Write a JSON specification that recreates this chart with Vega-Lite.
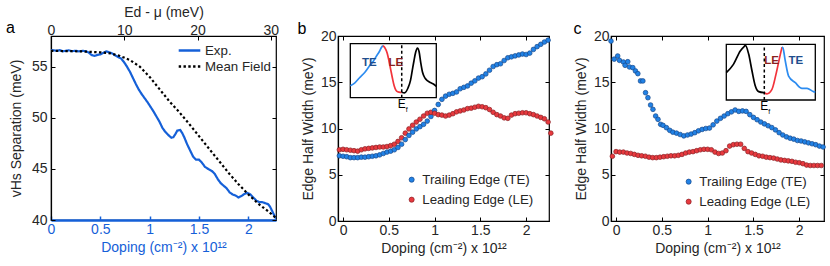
{
  "$schema": "https://vega.github.io/schema/vega-lite/v6.json",
  "padding": {"left": 5, "top": 4, "right": 5, "bottom": 5},
  "config": {
    "font": "Liberation Sans",
    "view": {"stroke": "#000", "strokeWidth": 1.2},
    "axis": {"grid": false, "labelFontSize": 14, "titleFontSize": 14, "titleFontWeight": "normal", "labelColor": "#262626", "titleColor": "#262626", "domainColor": "#000", "domainWidth": 1.2, "tickColor": "#000", "tickSize": -4, "labelFlush": false, "labelOverlap": false, "format": "~g"},
    "axisX": {"labelPadding": 6, "titlePadding": 4},
    "axisY": {"labelPadding": 6, "titlePadding": 5},
    "legend": {"labelFontSize": 13.3, "labelColor": "#262626", "padding": 0, "titleFontSize": 0}
  },
  "datasets": {
    "vhs": [
      {"series": "Exp.", "doping": 0.00, "sep": 56.62}, {"series": "Exp.", "doping": 0.03, "sep": 56.6}, {"series": "Exp.", "doping": 0.06, "sep": 56.55}, {"series": "Exp.", "doping": 0.09, "sep": 56.62}, {"series": "Exp.", "doping": 0.12, "sep": 56.5}, {"series": "Exp.", "doping": 0.15, "sep": 56.55}, {"series": "Exp.", "doping": 0.18, "sep": 56.6}, {"series": "Exp.", "doping": 0.21, "sep": 56.52}, {"series": "Exp.", "doping": 0.25, "sep": 56.55}, {"series": "Exp.", "doping": 0.28, "sep": 56.5}, {"series": "Exp.", "doping": 0.32, "sep": 56.55}, {"series": "Exp.", "doping": 0.35, "sep": 56.52}, {"series": "Exp.", "doping": 0.38, "sep": 56.4}, {"series": "Exp.", "doping": 0.41, "sep": 56.15}, {"series": "Exp.", "doping": 0.44, "sep": 56.05}, {"series": "Exp.", "doping": 0.47, "sep": 56.15}, {"series": "Exp.", "doping": 0.50, "sep": 56.2}, {"series": "Exp.", "doping": 0.53, "sep": 56.35}, {"series": "Exp.", "doping": 0.56, "sep": 56.5}, {"series": "Exp.", "doping": 0.59, "sep": 56.4}, {"series": "Exp.", "doping": 0.62, "sep": 56.3}, {"series": "Exp.", "doping": 0.65, "sep": 56.1}, {"series": "Exp.", "doping": 0.68, "sep": 55.95}, {"series": "Exp.", "doping": 0.71, "sep": 55.8}, {"series": "Exp.", "doping": 0.74, "sep": 55.45}, {"series": "Exp.", "doping": 0.77, "sep": 55.0}, {"series": "Exp.", "doping": 0.80, "sep": 54.5}, {"series": "Exp.", "doping": 0.83, "sep": 53.9}, {"series": "Exp.", "doping": 0.86, "sep": 53.3}, {"series": "Exp.", "doping": 0.89, "sep": 52.75}, {"series": "Exp.", "doping": 0.92, "sep": 52.3}, {"series": "Exp.", "doping": 0.95, "sep": 51.9}, {"series": "Exp.", "doping": 0.98, "sep": 51.5}, {"series": "Exp.", "doping": 1.01, "sep": 51.05}, {"series": "Exp.", "doping": 1.04, "sep": 50.6}, {"series": "Exp.", "doping": 1.07, "sep": 50.1}, {"series": "Exp.", "doping": 1.10, "sep": 49.6}, {"series": "Exp.", "doping": 1.13, "sep": 49.0}, {"series": "Exp.", "doping": 1.16, "sep": 48.6}, {"series": "Exp.", "doping": 1.19, "sep": 48.3}, {"series": "Exp.", "doping": 1.22, "sep": 48.05}, {"series": "Exp.", "doping": 1.24, "sep": 48.1}, {"series": "Exp.", "doping": 1.26, "sep": 48.4}, {"series": "Exp.", "doping": 1.28, "sep": 48.75}, {"series": "Exp.", "doping": 1.31, "sep": 48.8}, {"series": "Exp.", "doping": 1.33, "sep": 48.5}, {"series": "Exp.", "doping": 1.35, "sep": 48.1}, {"series": "Exp.", "doping": 1.38, "sep": 47.4}, {"series": "Exp.", "doping": 1.41, "sep": 46.8}, {"series": "Exp.", "doping": 1.44, "sep": 46.2}, {"series": "Exp.", "doping": 1.47, "sep": 45.9}, {"series": "Exp.", "doping": 1.50, "sep": 45.9}, {"series": "Exp.", "doping": 1.53, "sep": 45.6}, {"series": "Exp.", "doping": 1.56, "sep": 45.2}, {"series": "Exp.", "doping": 1.60, "sep": 44.95}, {"series": "Exp.", "doping": 1.63, "sep": 44.8}, {"series": "Exp.", "doping": 1.66, "sep": 44.5}, {"series": "Exp.", "doping": 1.69, "sep": 44.0}, {"series": "Exp.", "doping": 1.72, "sep": 43.6}, {"series": "Exp.", "doping": 1.75, "sep": 43.35}, {"series": "Exp.", "doping": 1.78, "sep": 43.1}, {"series": "Exp.", "doping": 1.81, "sep": 42.7}, {"series": "Exp.", "doping": 1.84, "sep": 42.5}, {"series": "Exp.", "doping": 1.87, "sep": 42.4}, {"series": "Exp.", "doping": 1.90, "sep": 42.2}, {"series": "Exp.", "doping": 1.93, "sep": 42.35}, {"series": "Exp.", "doping": 1.96, "sep": 42.55}, {"series": "Exp.", "doping": 1.99, "sep": 42.65}, {"series": "Exp.", "doping": 2.02, "sep": 42.5}, {"series": "Exp.", "doping": 2.05, "sep": 42.2}, {"series": "Exp.", "doping": 2.08, "sep": 41.9}, {"series": "Exp.", "doping": 2.11, "sep": 41.75}, {"series": "Exp.", "doping": 2.14, "sep": 41.75}, {"series": "Exp.", "doping": 2.17, "sep": 41.65}, {"series": "Exp.", "doping": 2.20, "sep": 41.55}, {"series": "Exp.", "doping": 2.22, "sep": 41.3}, {"series": "Exp.", "doping": 2.24, "sep": 40.9}, {"series": "Exp.", "doping": 2.26, "sep": 40.5}, {"series": "Exp.", "doping": 2.28, "sep": 40.15},
      {"series": "Mean Field", "doping": 0.0, "sep": 56.55}, {"series": "Mean Field", "doping": 0.3, "sep": 56.5}, {"series": "Mean Field", "doping": 0.5, "sep": 56.4}, {"series": "Mean Field", "doping": 0.6, "sep": 56.3}, {"series": "Mean Field", "doping": 0.7, "sep": 56.05}, {"series": "Mean Field", "doping": 0.8, "sep": 55.65}, {"series": "Mean Field", "doping": 0.9, "sep": 55.0}, {"series": "Mean Field", "doping": 1.0, "sep": 54.0}, {"series": "Mean Field", "doping": 1.1, "sep": 52.8}, {"series": "Mean Field", "doping": 1.2, "sep": 51.6}, {"series": "Mean Field", "doping": 1.3, "sep": 50.55}, {"series": "Mean Field", "doping": 1.4, "sep": 49.4}, {"series": "Mean Field", "doping": 1.5, "sep": 48.2}, {"series": "Mean Field", "doping": 1.6, "sep": 47.0}, {"series": "Mean Field", "doping": 1.7, "sep": 45.8}, {"series": "Mean Field", "doping": 1.8, "sep": 44.6}, {"series": "Mean Field", "doping": 1.9, "sep": 43.5}, {"series": "Mean Field", "doping": 2.0, "sep": 42.5}, {"series": "Mean Field", "doping": 2.1, "sep": 41.6}, {"series": "Mean Field", "doping": 2.2, "sep": 40.85}, {"series": "Mean Field", "doping": 2.28, "sep": 40.2}
    ],
    "b": [
      {"d": -0.04, "TE": 7.05, "LE": 7.7}, {"d": 0.00, "TE": 7.0, "LE": 7.75}, {"d": 0.04, "TE": 6.95, "LE": 7.7}, {"d": 0.08, "TE": 6.85, "LE": 7.65}, {"d": 0.12, "TE": 6.85, "LE": 7.6}, {"d": 0.16, "TE": 6.85, "LE": 7.55}, {"d": 0.20, "TE": 6.9, "LE": 7.7}, {"d": 0.24, "TE": 6.9, "LE": 7.8}, {"d": 0.28, "TE": 6.95, "LE": 7.85}, {"d": 0.32, "TE": 7.0, "LE": 7.9},
      {"d": 0.36, "TE": 7.05, "LE": 7.95}, {"d": 0.40, "TE": 7.15, "LE": 8.0}, {"d": 0.44, "TE": 7.3, "LE": 8.0}, {"d": 0.48, "TE": 7.45, "LE": 8.05}, {"d": 0.52, "TE": 7.55, "LE": 8.15}, {"d": 0.56, "TE": 7.7, "LE": 8.3}, {"d": 0.60, "TE": 7.95, "LE": 8.6}, {"d": 0.64, "TE": 8.3, "LE": 9.0}, {"d": 0.68, "TE": 8.8, "LE": 9.5}, {"d": 0.72, "TE": 9.25, "LE": 9.95},
      {"d": 0.76, "TE": 9.6, "LE": 10.35}, {"d": 0.80, "TE": 9.95, "LE": 10.7}, {"d": 0.84, "TE": 10.2, "LE": 11.0}, {"d": 0.88, "TE": 10.45, "LE": 11.35}, {"d": 0.92, "TE": 10.8, "LE": 11.65}, {"d": 0.96, "TE": 11.3, "LE": 11.75}, {"d": 1.00, "TE": 11.95, "LE": 11.65}, {"d": 1.04, "TE": 12.6, "LE": 11.5}, {"d": 1.08, "TE": 13.15, "LE": 11.45}, {"d": 1.12, "TE": 13.5, "LE": 11.35},
      {"d": 1.16, "TE": 13.7, "LE": 11.45}, {"d": 1.20, "TE": 13.8, "LE": 11.6}, {"d": 1.24, "TE": 13.95, "LE": 11.8}, {"d": 1.28, "TE": 14.3, "LE": 11.9}, {"d": 1.32, "TE": 14.45, "LE": 12.0}, {"d": 1.36, "TE": 14.6, "LE": 12.15}, {"d": 1.40, "TE": 14.9, "LE": 12.2}, {"d": 1.44, "TE": 15.15, "LE": 12.3}, {"d": 1.48, "TE": 15.45, "LE": 12.4}, {"d": 1.52, "TE": 15.6, "LE": 12.35},
      {"d": 1.56, "TE": 15.9, "LE": 12.25}, {"d": 1.60, "TE": 16.3, "LE": 12.05}, {"d": 1.64, "TE": 16.7, "LE": 11.75}, {"d": 1.68, "TE": 16.9, "LE": 11.5}, {"d": 1.72, "TE": 17.0, "LE": 11.35}, {"d": 1.76, "TE": 17.35, "LE": 11.15}, {"d": 1.80, "TE": 17.65, "LE": 11.1}, {"d": 1.84, "TE": 17.75, "LE": 11.45}, {"d": 1.88, "TE": 17.85, "LE": 11.6}, {"d": 1.92, "TE": 17.95, "LE": 11.65},
      {"d": 1.96, "TE": 18.05, "LE": 11.7}, {"d": 2.00, "TE": 18.0, "LE": 11.7}, {"d": 2.04, "TE": 18.15, "LE": 11.6}, {"d": 2.08, "TE": 18.55, "LE": 11.5}, {"d": 2.12, "TE": 18.85, "LE": 11.35}, {"d": 2.16, "TE": 19.1, "LE": 11.2}, {"d": 2.20, "TE": 19.35, "LE": 11.05}, {"d": 2.24, "TE": 19.55, "LE": 10.7}, {"d": 2.27, "LE": 9.5}
    ],
    "c": [
      {"s": "TE", "d": -0.055, "w": 19.45}, {"s": "TE", "d": -0.02, "w": 17.5}, {"s": "TE", "d": 0.018, "w": 17.84}, {"s": "TE", "d": 0.037, "w": 17.37}, {"s": "TE", "d": 0.08, "w": 17.19}, {"s": "TE", "d": 0.099, "w": 16.83}, {"s": "TE", "d": 0.128, "w": 17.22}, {"s": "TE", "d": 0.147, "w": 16.65}, {"s": "TE", "d": 0.183, "w": 16.58}, {"s": "TE", "d": 0.212, "w": 16.22}, {"s": "TE", "d": 0.238, "w": 15.93}, {"s": "TE", "d": 0.267, "w": 15.14}, {"s": "TE", "d": 0.293, "w": 15.14}, {"s": "TE", "d": 0.322, "w": 13.87}, {"s": "TE", "d": 0.348, "w": 13.33}, {"s": "TE", "d": 0.377, "w": 12.54}, {"s": "TE", "d": 0.403, "w": 12.07}, {"s": "TE", "d": 0.432, "w": 11.35}, {"s": "TE", "d": 0.458, "w": 10.99}, {"s": "TE", "d": 0.487, "w": 10.45}, {"s": "TE", "d": 0.513, "w": 10.34}, {"s": "TE", "d": 0.55, "w": 10.09}, {"s": "TE", "d": 0.586, "w": 9.8},
      {"s": "TE", "d": 0.62, "w": 9.6}, {"s": "TE", "d": 0.66, "w": 9.5}, {"s": "TE", "d": 0.70, "w": 9.35}, {"s": "TE", "d": 0.74, "w": 9.2}, {"s": "TE", "d": 0.78, "w": 9.3}, {"s": "TE", "d": 0.82, "w": 9.4}, {"s": "TE", "d": 0.86, "w": 9.55}, {"s": "TE", "d": 0.90, "w": 9.75}, {"s": "TE", "d": 0.94, "w": 9.9}, {"s": "TE", "d": 0.98, "w": 10.0}, {"s": "TE", "d": 1.02, "w": 10.05}, {"s": "TE", "d": 1.06, "w": 10.4}, {"s": "TE", "d": 1.10, "w": 10.8}, {"s": "TE", "d": 1.14, "w": 11.1}, {"s": "TE", "d": 1.18, "w": 11.35}, {"s": "TE", "d": 1.22, "w": 11.6}, {"s": "TE", "d": 1.26, "w": 11.8}, {"s": "TE", "d": 1.30, "w": 12.0}, {"s": "TE", "d": 1.34, "w": 11.85}, {"s": "TE", "d": 1.38, "w": 11.9}, {"s": "TE", "d": 1.42, "w": 11.85}, {"s": "TE", "d": 1.46, "w": 11.5}, {"s": "TE", "d": 1.50, "w": 11.2}, {"s": "TE", "d": 1.54, "w": 10.95}, {"s": "TE", "d": 1.58, "w": 10.7}, {"s": "TE", "d": 1.62, "w": 10.5}, {"s": "TE", "d": 1.66, "w": 10.3}, {"s": "TE", "d": 1.70, "w": 10.1}, {"s": "TE", "d": 1.74, "w": 9.85}, {"s": "TE", "d": 1.78, "w": 9.55}, {"s": "TE", "d": 1.82, "w": 9.3}, {"s": "TE", "d": 1.86, "w": 9.1}, {"s": "TE", "d": 1.90, "w": 8.95}, {"s": "TE", "d": 1.94, "w": 8.85}, {"s": "TE", "d": 1.98, "w": 8.7}, {"s": "TE", "d": 2.02, "w": 8.65}, {"s": "TE", "d": 2.06, "w": 8.55}, {"s": "TE", "d": 2.10, "w": 8.45}, {"s": "TE", "d": 2.14, "w": 8.35}, {"s": "TE", "d": 2.18, "w": 8.25}, {"s": "TE", "d": 2.22, "w": 8.1}, {"s": "TE", "d": 2.26, "w": 8.0},
      {"s": "LE", "d": -0.04, "w": 7.0}, {"s": "LE", "d": 0.00, "w": 7.5}, {"s": "LE", "d": 0.04, "w": 7.45}, {"s": "LE", "d": 0.08, "w": 7.45}, {"s": "LE", "d": 0.12, "w": 7.35}, {"s": "LE", "d": 0.16, "w": 7.3}, {"s": "LE", "d": 0.20, "w": 7.2}, {"s": "LE", "d": 0.24, "w": 7.1}, {"s": "LE", "d": 0.28, "w": 7.05}, {"s": "LE", "d": 0.32, "w": 7.0}, {"s": "LE", "d": 0.36, "w": 6.9}, {"s": "LE", "d": 0.40, "w": 6.85}, {"s": "LE", "d": 0.44, "w": 6.85}, {"s": "LE", "d": 0.48, "w": 6.9}, {"s": "LE", "d": 0.52, "w": 6.95}, {"s": "LE", "d": 0.56, "w": 7.0}, {"s": "LE", "d": 0.60, "w": 7.05}, {"s": "LE", "d": 0.64, "w": 7.05}, {"s": "LE", "d": 0.68, "w": 7.1}, {"s": "LE", "d": 0.72, "w": 7.2}, {"s": "LE", "d": 0.76, "w": 7.35}, {"s": "LE", "d": 0.80, "w": 7.45}, {"s": "LE", "d": 0.84, "w": 7.5}, {"s": "LE", "d": 0.88, "w": 7.6}, {"s": "LE", "d": 0.92, "w": 7.7}, {"s": "LE", "d": 0.96, "w": 7.75}, {"s": "LE", "d": 1.00, "w": 7.75}, {"s": "LE", "d": 1.04, "w": 7.7}, {"s": "LE", "d": 1.08, "w": 7.45}, {"s": "LE", "d": 1.12, "w": 7.3}, {"s": "LE", "d": 1.16, "w": 7.35}, {"s": "LE", "d": 1.20, "w": 7.6}, {"s": "LE", "d": 1.24, "w": 8.1}, {"s": "LE", "d": 1.28, "w": 8.25}, {"s": "LE", "d": 1.32, "w": 8.3}, {"s": "LE", "d": 1.36, "w": 8.3}, {"s": "LE", "d": 1.40, "w": 7.85}, {"s": "LE", "d": 1.44, "w": 7.5}, {"s": "LE", "d": 1.48, "w": 7.35}, {"s": "LE", "d": 1.52, "w": 7.2}, {"s": "LE", "d": 1.56, "w": 7.05}, {"s": "LE", "d": 1.60, "w": 7.0}, {"s": "LE", "d": 1.64, "w": 6.9}, {"s": "LE", "d": 1.68, "w": 6.85}, {"s": "LE", "d": 1.72, "w": 6.8}, {"s": "LE", "d": 1.76, "w": 6.7}, {"s": "LE", "d": 1.80, "w": 6.6}, {"s": "LE", "d": 1.84, "w": 6.55}, {"s": "LE", "d": 1.88, "w": 6.5}, {"s": "LE", "d": 1.92, "w": 6.45}, {"s": "LE", "d": 1.96, "w": 6.35}, {"s": "LE", "d": 2.00, "w": 6.3}, {"s": "LE", "d": 2.04, "w": 6.2}, {"s": "LE", "d": 2.08, "w": 6.05}, {"s": "LE", "d": 2.12, "w": 6.0}, {"s": "LE", "d": 2.16, "w": 6.0}, {"s": "LE", "d": 2.20, "w": 6.0}, {"s": "LE", "d": 2.24, "w": 6.0}
    ],
    "bi": [
      {"seg": "TE", "e": 0, "v": 0.22}, {"seg": "TE", "e": 0.05, "v": 0.27}, {"seg": "TE", "e": 0.108, "v": 0.37}, {"seg": "TE", "e": 0.17, "v": 0.47}, {"seg": "TE", "e": 0.224, "v": 0.59}, {"seg": "TE", "e": 0.27, "v": 0.68}, {"seg": "TE", "e": 0.30, "v": 0.76}, {"seg": "TE", "e": 0.34, "v": 0.86}, {"seg": "TE", "e": 0.362, "v": 0.93}, {"seg": "TE", "e": 0.38, "v": 0.965},
      {"seg": "LE", "e": 0.38, "v": 0.965}, {"seg": "LE", "e": 0.40, "v": 0.93}, {"seg": "LE", "e": 0.43, "v": 0.82}, {"seg": "LE", "e": 0.45, "v": 0.68}, {"seg": "LE", "e": 0.47, "v": 0.52}, {"seg": "LE", "e": 0.49, "v": 0.36}, {"seg": "LE", "e": 0.51, "v": 0.22}, {"seg": "LE", "e": 0.53, "v": 0.14}, {"seg": "LE", "e": 0.55, "v": 0.11}, {"seg": "LE", "e": 0.58, "v": 0.1}, {"seg": "LE", "e": 0.598, "v": 0.1},
      {"seg": "BK", "e": 0.598, "v": 0.1}, {"seg": "BK", "e": 0.63, "v": 0.09}, {"seg": "BK", "e": 0.672, "v": 0.185}, {"seg": "BK", "e": 0.70, "v": 0.32}, {"seg": "BK", "e": 0.72, "v": 0.5}, {"seg": "BK", "e": 0.74, "v": 0.68}, {"seg": "BK", "e": 0.76, "v": 0.84}, {"seg": "BK", "e": 0.78, "v": 0.92}, {"seg": "BK", "e": 0.80, "v": 0.85}, {"seg": "BK", "e": 0.82, "v": 0.64}, {"seg": "BK", "e": 0.84, "v": 0.47}, {"seg": "BK", "e": 0.87, "v": 0.36}, {"seg": "BK", "e": 0.90, "v": 0.31}, {"seg": "BK", "e": 0.93, "v": 0.28}, {"seg": "BK", "e": 0.97, "v": 0.25}, {"seg": "BK", "e": 1.0, "v": 0.21}
    ],
    "ci": [
      {"seg": "BK", "e": 0, "v": 0.49}, {"seg": "BK", "e": 0.08, "v": 0.64}, {"seg": "BK", "e": 0.157, "v": 0.88}, {"seg": "BK", "e": 0.2, "v": 0.96}, {"seg": "BK", "e": 0.215, "v": 0.98}, {"seg": "BK", "e": 0.252, "v": 0.82}, {"seg": "BK", "e": 0.289, "v": 0.52}, {"seg": "BK", "e": 0.326, "v": 0.25}, {"seg": "BK", "e": 0.364, "v": 0.15}, {"seg": "BK", "e": 0.427, "v": 0.13},
      {"seg": "LE", "e": 0.427, "v": 0.13}, {"seg": "LE", "e": 0.457, "v": 0.11}, {"seg": "LE", "e": 0.513, "v": 0.19}, {"seg": "LE", "e": 0.558, "v": 0.46}, {"seg": "LE", "e": 0.607, "v": 0.82}, {"seg": "LE", "e": 0.626, "v": 0.95},
      {"seg": "TE", "e": 0.626, "v": 0.95}, {"seg": "TE", "e": 0.637, "v": 0.93}, {"seg": "TE", "e": 0.663, "v": 0.7}, {"seg": "TE", "e": 0.70, "v": 0.43}, {"seg": "TE", "e": 0.775, "v": 0.31}, {"seg": "TE", "e": 0.85, "v": 0.21}, {"seg": "TE", "e": 0.907, "v": 0.21}, {"seg": "TE", "e": 0.98, "v": 0.15}, {"seg": "TE", "e": 1.0, "v": 0.14}
    ]
  },
  "hconcat": [
    {
      "width": 225, "height": 184,
      "layer": [
        {
          "data": {"name": "vhs"},
          "mark": {"type": "line", "strokeWidth": 2.2, "clip": true},
          "encoding": {
            "x": {"field": "doping", "type": "quantitative", "scale": {"domain": [0, 2.28], "nice": false, "zero": false},
                  "axis": {"values": [0, 0.5, 1, 1.5, 2], "title": "Doping (cm⁻²) x 10¹²", "labelColor": "#1560d8", "titleColor": "#1560d8", "domainColor": "#1560d8", "domainWidth": 2.5, "tickColor": "#1560d8", "tickWidth": 1.5}},
            "y": {"field": "sep", "type": "quantitative", "scale": {"domain": [40, 58], "nice": false, "zero": false},
                  "axis": {"values": [40, 45, 50, 55], "title": "vHs Separation (meV)", "labelPadding": 8, "titlePadding": 8}},
            "color": {"field": "series", "type": "nominal", "scale": {"domain": ["Exp.", "Mean Field"], "range": ["#1560d8", "#000000"]},
                      "legend": {"orient": "top-right", "offset": 5, "title": null, "symbolType": "M-1.35,0H1.35", "symbolSize": 256, "symbolStrokeWidth": 2.3, "rowPadding": 0, "labelOffset": 6}},
            "strokeDash": {"field": "series", "type": "nominal", "scale": {"domain": ["Exp.", "Mean Field"], "range": [[1, 0], [2.4, 2.4]]},
                      "legend": {"orient": "top-right", "offset": 5, "title": null, "symbolType": "M-1.35,0H1.35", "symbolSize": 256, "symbolStrokeWidth": 2.3, "rowPadding": 0, "labelOffset": 6}}
          }
        },
        {
          "data": {"values": [{}]},
          "mark": {"type": "rule", "opacity": 0},
          "encoding": {
            "x": {"datum": 0, "type": "quantitative", "scale": {"domain": [0, 30.7], "nice": false, "zero": false},
                  "axis": {"orient": "top", "values": [0, 10, 20, 30], "format": "d", "title": "Ed - μ (meV)", "labelPadding": 3, "titlePadding": 4}}
          }
        },
        {
          "data": {"values": [{}]},
          "mark": {"type": "rule", "opacity": 0},
          "encoding": {
            "y": {"datum": 40, "type": "quantitative", "scale": {"domain": [40, 58], "nice": false, "zero": false},
                  "axis": {"orient": "right", "values": [40, 45, 50, 55], "labels": false, "title": null, "domain": false}}
          }
        },
        {
          "data": {"values": [{}]},
          "mark": {"type": "text", "text": "a", "fontSize": 16, "baseline": "alphabetic", "align": "center", "color": "#000"},
          "encoding": {
            "x": {"datum": -0.41, "type": "quantitative", "scale": {"domain": [0, 2.28], "nice": false, "zero": false}, "axis": null},
            "y": {"datum": 58.26, "type": "quantitative", "scale": {"domain": [40, 58], "nice": false, "zero": false}, "axis": null}
          }
        }
      ],
      "resolve": {"scale": {"x": "independent", "y": "independent"}}
    },
    {
      "width": 211, "height": 185,
      "layer": [
        {
          "layer": [
            {
              "data": {"name": "b"},
              "transform": [{"fold": ["TE", "LE"], "as": ["s", "w"]}, {"filter": "isValid(datum.w)"}],
              "mark": {"type": "circle", "size": 22, "strokeWidth": 0.7, "opacity": 1},
              "encoding": {
                "x": {"field": "d", "type": "quantitative", "scale": {"domain": [-0.055, 2.25], "nice": false, "zero": false},
                      "axis": {"values": [0, 0.5, 1, 1.5, 2], "title": "Doping (cm⁻²) x 10¹²"}},
                "y": {"field": "w", "type": "quantitative", "scale": {"domain": [0, 20], "nice": false},
                      "axis": {"values": [0, 5, 10, 15, 20], "title": "Edge Half Width (meV)"}},
                "fill": {"field": "s", "type": "nominal", "scale": {"domain": ["TE", "LE"], "range": ["#2182e6", "#e8393e"]},
                         "legend": {"orient": "bottom-right", "offset": 15, "title": null, "symbolType": "circle", "symbolSize": 26, "symbolStrokeWidth": 0.7, "rowPadding": 6, "labelOffset": 4, "labelExpr": "datum.label == 'TE' ? 'Trailing Edge (TE)' : 'Leading Edge (LE)'", "encode": {"labels": {"update": {"fill": {"signal": "datum.value == 'TE' ? '#1f4e8d' : '#8b1f1f'"}}}}}},
                "stroke": {"field": "s", "type": "nominal", "scale": {"domain": ["TE", "LE"], "range": ["#17488a", "#8a2125"]},
                         "legend": {"orient": "bottom-right", "offset": 15, "title": null, "symbolType": "circle", "symbolSize": 26, "symbolStrokeWidth": 0.7, "rowPadding": 6, "labelOffset": 4, "labelExpr": "datum.label == 'TE' ? 'Trailing Edge (TE)' : 'Leading Edge (LE)'", "encode": {"labels": {"update": {"fill": {"signal": "datum.value == 'TE' ? '#1f4e8d' : '#8b1f1f'"}}}}}}
              }
            },
            {
              "data": {"values": [{}]},
              "mark": {"type": "point", "opacity": 0},
              "encoding": {
                "x": {"datum": 0, "type": "quantitative", "axis": {"orient": "top", "values": [0, 0.5, 1, 1.5, 2], "labels": false, "title": null, "domain": false}},
                "y": {"datum": 0, "type": "quantitative", "axis": {"orient": "right", "values": [0, 5, 10, 15, 20], "labels": false, "title": null, "domain": false}}
              }
            },
            {
              "data": {"values": [{}]},
              "mark": {"type": "text", "text": "b", "fontSize": 16, "baseline": "alphabetic", "align": "center", "color": "#000"},
              "encoding": {"x": {"datum": -0.45, "type": "quantitative", "axis": null}, "y": {"datum": 20.18, "type": "quantitative", "axis": null}}
            }
          ],
          "resolve": {"axis": {"x": "independent", "y": "independent"}}
        },
        {
          "layer": [
            {
              "data": {"values": [{}]},
              "mark": {"type": "rect", "fill": "white", "stroke": "black", "strokeWidth": 1.3},
              "encoding": {
                "x": {"datum": 0, "type": "quantitative", "scale": {"domain": [0, 1], "range": [12.3, 98.3], "nice": false, "zero": false}, "axis": null},
                "x2": {"datum": 1},
                "y": {"datum": 0, "type": "quantitative", "scale": {"domain": [0, 1], "range": [61.7, 7.7], "nice": false, "zero": false}, "axis": null},
                "y2": {"datum": 1}
              }
            },
            {
              "data": {"name": "bi"},
              "mark": {"type": "line", "strokeWidth": 1.7, "interpolate": "monotone"},
              "encoding": {
                "x": {"field": "e", "type": "quantitative", "axis": null},
                "y": {"field": "v", "type": "quantitative", "axis": null},
                "color": {"field": "seg", "type": "nominal", "scale": {"domain": ["TE", "LE", "BK"], "range": ["#2d8cf0", "#f2333b", "#000000"]}, "legend": null}
              }
            },
            {
              "data": {"values": [{}]},
              "mark": {"type": "rule", "strokeDash": [3, 2.5], "strokeWidth": 1.5, "color": "#000"},
              "encoding": {"x": {"datum": 0.598, "type": "quantitative"}, "y": {"datum": 0, "type": "quantitative"}, "y2": {"datum": 1}}
            },
            {
              "data": {"values": [{}]},
              "mark": {"type": "text", "text": "TE", "fontWeight": "bold", "fontSize": 11.5, "color": "#1f4e8d"},
              "encoding": {"x": {"datum": 0.22, "type": "quantitative"}, "y": {"datum": 0.64, "type": "quantitative"}}
            },
            {
              "data": {"values": [{}]},
              "mark": {"type": "text", "text": "LE", "fontWeight": "bold", "fontSize": 11.5, "color": "#8b1f1f"},
              "encoding": {"x": {"datum": 0.53, "type": "quantitative"}, "y": {"datum": 0.64, "type": "quantitative"}}
            },
            {
              "data": {"values": [{}]},
              "mark": {"type": "text", "text": "E", "fontSize": 12, "baseline": "top", "dy": 1, "color": "#000"},
              "encoding": {"x": {"datum": 0.598, "type": "quantitative"}, "y": {"datum": 0, "type": "quantitative"}}
            },
            {
              "data": {"values": [{}]},
              "mark": {"type": "text", "text": "f", "fontSize": 7, "baseline": "top", "dx": 5, "dy": 8, "color": "#000"},
              "encoding": {"x": {"datum": 0.598, "type": "quantitative"}, "y": {"datum": 0, "type": "quantitative"}}
            }
          ]
        }
      ],
      "resolve": {"scale": {"x": "independent", "y": "independent", "color": "independent"}}
    },
    {
      "width": 213, "height": 185,
      "layer": [
        {
          "layer": [
            {
              "data": {"name": "c"},
              "mark": {"type": "circle", "size": 22, "strokeWidth": 0.7, "opacity": 1},
              "encoding": {
                "x": {"field": "d", "type": "quantitative", "scale": {"domain": [-0.055, 2.27], "nice": false, "zero": false},
                      "axis": {"values": [0, 0.5, 1, 1.5, 2], "title": "Doping (cm⁻²) x 10¹²"}},
                "y": {"field": "w", "type": "quantitative", "scale": {"domain": [0, 20], "nice": false},
                      "axis": {"values": [0, 5, 10, 15, 20], "title": "Edge Half Width (meV)"}},
                "fill": {"field": "s", "type": "nominal", "scale": {"domain": ["TE", "LE"], "range": ["#2182e6", "#e8393e"]},
                         "legend": {"orient": "bottom-right", "offset": 13, "title": null, "symbolType": "circle", "symbolSize": 26, "symbolStrokeWidth": 0.7, "rowPadding": 6, "labelOffset": 4, "labelExpr": "datum.label == 'TE' ? 'Trailing Edge (TE)' : 'Leading Edge (LE)'", "encode": {"labels": {"update": {"fill": {"signal": "datum.value == 'TE' ? '#1f4e8d' : '#8b1f1f'"}}}}}},
                "stroke": {"field": "s", "type": "nominal", "scale": {"domain": ["TE", "LE"], "range": ["#17488a", "#8a2125"]},
                         "legend": {"orient": "bottom-right", "offset": 13, "title": null, "symbolType": "circle", "symbolSize": 26, "symbolStrokeWidth": 0.7, "rowPadding": 6, "labelOffset": 4, "labelExpr": "datum.label == 'TE' ? 'Trailing Edge (TE)' : 'Leading Edge (LE)'", "encode": {"labels": {"update": {"fill": {"signal": "datum.value == 'TE' ? '#1f4e8d' : '#8b1f1f'"}}}}}}
              }
            },
            {
              "data": {"values": [{}]},
              "mark": {"type": "point", "opacity": 0},
              "encoding": {
                "x": {"datum": 0, "type": "quantitative", "axis": {"orient": "top", "values": [0, 0.5, 1, 1.5, 2], "labels": false, "title": null, "domain": false}},
                "y": {"datum": 0, "type": "quantitative", "axis": {"orient": "right", "values": [0, 5, 10, 15, 20], "labels": false, "title": null, "domain": false}}
              }
            },
            {
              "data": {"values": [{}]},
              "mark": {"type": "text", "text": "c", "fontSize": 16, "baseline": "alphabetic", "align": "center", "color": "#000"},
              "encoding": {"x": {"datum": -0.42, "type": "quantitative", "axis": null}, "y": {"datum": 20.25, "type": "quantitative", "axis": null}}
            }
          ],
          "resolve": {"axis": {"x": "independent", "y": "independent"}}
        },
        {
          "layer": [
            {
              "data": {"values": [{}]},
              "mark": {"type": "rect", "fill": "white", "stroke": "black", "strokeWidth": 1.3},
              "encoding": {
                "x": {"datum": 0, "type": "quantitative", "scale": {"domain": [0, 1], "range": [115.3, 204.3], "nice": false, "zero": false}, "axis": null},
                "x2": {"datum": 1},
                "y": {"datum": 0, "type": "quantitative", "scale": {"domain": [0, 1], "range": [64, 8.3], "nice": false, "zero": false}, "axis": null},
                "y2": {"datum": 1}
              }
            },
            {
              "data": {"name": "ci"},
              "mark": {"type": "line", "strokeWidth": 1.7, "interpolate": "monotone"},
              "encoding": {
                "x": {"field": "e", "type": "quantitative", "axis": null},
                "y": {"field": "v", "type": "quantitative", "axis": null},
                "color": {"field": "seg", "type": "nominal", "scale": {"domain": ["TE", "LE", "BK"], "range": ["#2d8cf0", "#f2333b", "#000000"]}, "legend": null}
              }
            },
            {
              "data": {"values": [{}]},
              "mark": {"type": "rule", "strokeDash": [3, 2.5], "strokeWidth": 1.5, "color": "#000"},
              "encoding": {"x": {"datum": 0.427, "type": "quantitative"}, "y": {"datum": 0, "type": "quantitative"}, "y2": {"datum": 1}}
            },
            {
              "data": {"values": [{}]},
              "mark": {"type": "text", "text": "LE", "fontWeight": "bold", "fontSize": 11.5, "color": "#8b1f1f"},
              "encoding": {"x": {"datum": 0.51, "type": "quantitative"}, "y": {"datum": 0.7, "type": "quantitative"}}
            },
            {
              "data": {"values": [{}]},
              "mark": {"type": "text", "text": "TE", "fontWeight": "bold", "fontSize": 11.5, "color": "#1f4e8d"},
              "encoding": {"x": {"datum": 0.78, "type": "quantitative"}, "y": {"datum": 0.7, "type": "quantitative"}}
            },
            {
              "data": {"values": [{}]},
              "mark": {"type": "text", "text": "E", "fontSize": 12, "baseline": "top", "dy": 1, "color": "#000"},
              "encoding": {"x": {"datum": 0.427, "type": "quantitative"}, "y": {"datum": 0, "type": "quantitative"}}
            },
            {
              "data": {"values": [{}]},
              "mark": {"type": "text", "text": "f", "fontSize": 7, "baseline": "top", "dx": 5, "dy": 8, "color": "#000"},
              "encoding": {"x": {"datum": 0.427, "type": "quantitative"}, "y": {"datum": 0, "type": "quantitative"}}
            }
          ]
        }
      ],
      "resolve": {"scale": {"x": "independent", "y": "independent", "color": "independent"}}
    }
  ],
  "spacing": 62,
  "bounds": "flush",
  "resolve": {"scale": {"color": "independent", "fill": "independent", "stroke": "independent", "strokeDash": "independent"}, "legend": {"color": "independent", "fill": "independent", "stroke": "independent", "strokeDash": "independent"}}
}
